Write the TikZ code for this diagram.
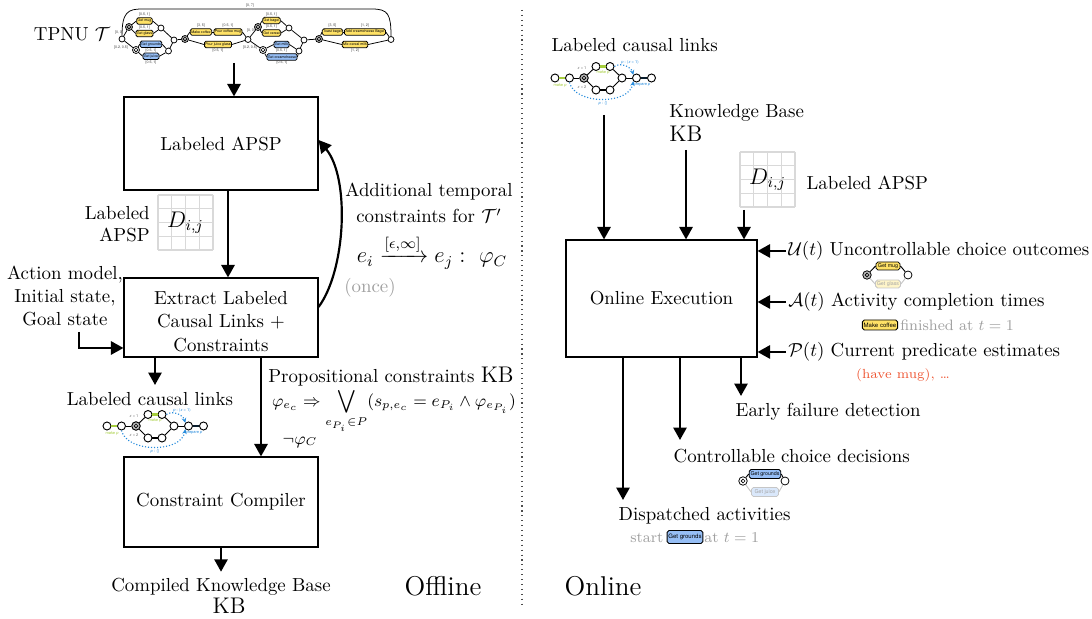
\documentclass[tikz,border=0pt]{standalone}
\usepackage{amsmath,amssymb}
\usepackage{fontspec}
\newfontfamily\boxfont{TeX Gyre Heros}
\usetikzlibrary{arrows.meta}

\definecolor{actY}{RGB}{255,226,102}
\definecolor{actB}{RGB}{150,190,245}
\definecolor{linkG}{RGB}{165,205,60}
\definecolor{linkB}{RGB}{40,140,220}
\definecolor{noteR}{RGB}{238,85,50}
\definecolor{noteG}{RGB}{160,160,160}
\def\pxu{0.53pt}

\tikzset{
  arr/.style={line width=1.15pt, -{Triangle[length=6.6pt,width=7pt]}},
  procbox/.style={draw, line width=0.6pt, align=center, inner sep=2pt},
  ev/.style={circle, draw, fill=white, line width=0.4pt, minimum size=6*\pxu, inner sep=0pt},
  uch/.style={ev, fill=gray!55, minimum size=7*\pxu,
    path picture={\draw[line width=0.3pt] (path picture bounding box.center) circle[radius=1.9*\pxu];}},
  cch/.style={ev, minimum size=7*\pxu,
    path picture={\draw[line width=0.3pt] (path picture bounding box.center) circle[radius=1.9*\pxu];}},
  tact/.style={draw, rounded corners=0.8pt, line width=0.4pt, inner xsep=0.5pt, inner ysep=0pt,
    minimum height=6.5*\pxu, font=\boxfont\fontsize{1.9}{2.2}\selectfont},
  yact/.style={tact, fill=actY},
  bact/.style={tact, fill=actB},
  tlab/.style={font=\boxfont\fontsize{1.9}{2.2}\selectfont, inner sep=0pt, text=black!75},
  tedge/.style={line width=0.4pt},
  cev/.style={ev, minimum size=8*\pxu, line width=0.5pt},
  cuch/.style={uch, minimum size=8.5*\pxu, line width=0.5pt},
  clab/.style={font=\boxfont\fontsize{2.1}{2.4}\selectfont, inner sep=0pt},
  iact/.style={draw, rounded corners=1pt, line width=0.45pt, inner xsep=0.7pt, inner ysep=0pt,
    font=\boxfont\fontsize{2.8}{3.2}\selectfont},
  gridline/.style={gray!30, line width=0.6pt},
  pics/clinks/.style={code={
    \node[cev] (-a) at (0,0) {};
    \node[cev] (-b) at (14.5,0) {};
    \node[cuch] (-c) at (29,0) {};
    \node[cev] (-u1) at (41,-11.5) {};
    \node[cev] (-u2) at (55,-11.5) {};
    \node[cev] (-l1) at (41,12) {};
    \node[cev] (-l2) at (55,12) {};
    \node[cev] (-d) at (67,0) {};
    \node[cev] (-e) at (81.5,0) {};
    \node[cev] (-f) at (96.5,0) {};
    \draw[line width=1.2pt, linkG] (-a) -- (-b);
    \draw[line width=0.5pt] (-b) -- (-c);
    \draw[line width=0.5pt] (-c) -- (-u1);
    \draw[line width=0.5pt] (-c) -- (-l1);
    \draw[line width=1.2pt, linkG] (-u1) -- (-u2);
    \draw[line width=1pt] (-l1) -- (-l2);
    \draw[line width=0.5pt] (-u2) -- (-d);
    \draw[line width=0.5pt] (-l2) -- (-d);
    \draw[line width=0.5pt] (-d) -- (-e);
    \draw[line width=1.1pt, black!80!linkB] (-e) -- (-f);
    \draw[linkB, densely dotted, line width=0.6pt, -{Stealth[length=2.6pt,width=2.4pt]}]
      (-u2.east) .. controls (66,-16) and (76,-11) .. (-e.north west);
    \draw[linkB, densely dotted, line width=0.6pt, -{Stealth[length=2.6pt,width=2.4pt]}]
      (-b.south) .. controls (20,27) and (74,27) .. (-e.south west);
    \node[clab, text=linkG] at (5,7) {make \textit{p}};
    \node[clab, text=linkG] at (48,-5.5) {make \textit{p}};
    \node[clab, text=black!55] at (27,-9.5) {\textit{x} = 1};
    \node[clab, text=black!55] at (27,9.5) {\textit{x} = 2};
    \node[clab, text=linkB] at (75,-16) {\textit{p} : (\textit{x} = 1)};
    \node[clab, text=linkB] at (87,7) {prepare \textit{p}};
    \node[clab, text=linkB] at (48,25) {\textit{p} : \{\}};
  }}
}

\begin{document}
\begin{tikzpicture}[x=0.53pt, y=-0.53pt]
\useasboundingbox (0,0) rectangle (1092,619);

% ---------------- Offline part ----------------
\node (tpnulbl) at (72,34) {TPNU $\mathcal{T}$};

% temporal plan network with uncertainty
\node[ev] (t0) at (122,39) {};
\node[uch] (tc1) at (129,27) {};
\node[yact] (tmug) at (144.5,21) {Get mug};
\node[yact] (tglass) at (144.5,33.5) {Get glass};
\node[ev] (tm1) at (161,28) {};
\node[cch] (tc2) at (136,50) {};
\node[bact] (tgrounds) at (151,44.3) {Get grounds};
\node[bact] (tjuice) at (151,56.3) {Get juice};
\node[ev] (tm2) at (168.5,51) {};
\node[ev] (tj1) at (174,40) {};
\node[uch] (tc3) at (185,39) {};
\node[yact] (tmake) at (201,32) {Make coffee};
\node[yact] (tpourm) at (228,32) {Pour coffee mug};
\node[yact] (tpourj) at (218,44.5) {Pour juice glass};
\node[ev] (tj2) at (248,39.5) {};
\node[uch] (tc4) at (258,27) {};
\node[yact] (tbagel) at (271.5,20.5) {Get bagel};
\node[yact] (tcereal) at (271.5,33) {Get cereal};
\node[ev] (tm3) at (289,28) {};
\node[cch] (tc5) at (263,50) {};
\node[bact] (tmilk) at (281.5,44.5) {Get milk};
\node[bact] (tcream) at (282,57) {Get creamcheese};
\node[ev] (tm4) at (299,51) {};
\node[ev] (tj3) at (304,40) {};
\node[uch] (tc6) at (319,39) {};
\node[yact] (ttoast) at (332.5,32) {Toast bagel};
\node[yact] (tadd) at (365,32) {Add creamcheese Bagel};
\node[yact] (tmix) at (355,44.5) {Mix cereal milk};
\node[ev] (tend) at (391,39.5) {};

\draw[tedge] (t0) -- (tc1);
\draw[tedge] (t0) -- (tc2);
\draw[tedge] (tc1) -- (tmug.west);
\draw[tedge] (tc1) -- (tglass.west);
\draw[tedge] (tmug.east) -- (tm1);
\draw[tedge] (tglass.east) -- (tm1);
\draw[tedge] (tc2) -- (tgrounds.west);
\draw[tedge] (tc2) -- (tjuice.west);
\draw[tedge] (tgrounds.east) -- (tm2);
\draw[tedge] (tjuice.east) -- (tm2);
\draw[tedge] (tm1) -- (tj1);
\draw[tedge] (tm2) -- (tj1);
\draw[tedge] (tj1) -- (tc3);
\draw[tedge] (tc3) -- (tmake.west);
\draw[tedge] (tmake) -- (tpourm);
\draw[tedge] (tpourm.east) -- (tj2);
\draw[tedge] (tc3) -- (tpourj.west);
\draw[tedge] (tpourj.east) -- (tj2);
\draw[tedge] (tj2) -- (tc4);
\draw[tedge] (tj2) -- (tc5);
\draw[tedge] (tc4) -- (tbagel.west);
\draw[tedge] (tc4) -- (tcereal.west);
\draw[tedge] (tbagel.east) -- (tm3);
\draw[tedge] (tcereal.east) -- (tm3);
\draw[tedge] (tc5) -- (tmilk.west);
\draw[tedge] (tc5) -- (tcream.west);
\draw[tedge] (tmilk.east) -- (tm4);
\draw[tedge] (tcream.east) -- (tm4);
\draw[tedge] (tm3) -- (tj3);
\draw[tedge] (tm4) -- (tj3);
\draw[tedge] (tj3) -- (tc6);
\draw[tedge] (tc6) -- (ttoast.west);
\draw[tedge] (ttoast) -- (tadd);
\draw[tedge] (tadd.east) -- (tend);
\draw[tedge] (tc6) -- (tmix.west);
\draw[tedge] (tmix.east) -- (tend);
\draw[tedge] (t0.north) .. controls (122,12) and (128,9) .. (142,9) -- (372,9)
  .. controls (388,9) and (391,14) .. (tend.north);

\node[tlab] at (250,5.5) {[0, 7]};
\node[tlab] at (144.5,15) {[0.5, 1]};
\node[tlab] at (144.5,27.5) {[0.5, 1]};
\node[tlab] at (151,50.5) {[0.5, 1]};
\node[tlab] at (151,62.5) {[0.5, 1]};
\node[tlab] at (119,33) {[0, 0]};
\node[tlab] at (121,47.5) {[0.2, 0.5]};
\node[tlab] at (201,25.5) {[3, 5]};
\node[tlab] at (228,25.5) {[0.5, 1]};
\node[tlab] at (218,51) {[0.5, 1]};
\node[tlab] at (251,31) {[0, 0]};
\node[tlab] at (271.5,14.5) {[0.5, 1]};
\node[tlab] at (271.5,27) {[0.5, 1]};
\node[tlab] at (250,47.5) {[0.2, 0.5]};
\node[tlab] at (281.5,51) {[0.5, 1]};
\node[tlab] at (282,63) {[0.5, 1]};
\node[tlab] at (332.5,25.5) {[3, 5]};
\node[tlab] at (365,25.5) {[1, 2]};
\node[tlab] at (355,51) {[1, 2]};

% processing stages
\node[procbox, minimum width=194*\pxu, minimum height=93*\pxu] (apsp) at (221,143.5) {Labeled APSP};
\node[procbox, minimum width=194*\pxu, minimum height=79*\pxu] (extract) at (221,317.5) {};
\node[align=center] (extracttxt) at (221,321.5) {Extract Labeled\\[0.5pt]Causal Links +\\[0.5pt]Constraints};
\node[procbox, minimum width=194*\pxu, minimum height=90*\pxu] (compiler) at (221,502) {Constraint Compiler};

\coordinate (tpnuout) at (234,63);
\draw[arr] (tpnuout) -- (tpnuout |- apsp.north);
\draw[arr] ([xshift=7*\pxu]apsp.south) -- ([xshift=7*\pxu]extract.north);

% APSP matrix beside the arrow
\node[align=right, anchor=east, inner sep=0pt] (lapsp) at (150,224) {Labeled\\APSP};
\node[minimum size=55*\pxu, inner sep=0pt] (gridL) at (185.5,222.5) {};
\foreach \i in {0,...,4} {
  \draw[gridline] (158+\i*13.75,195) -- (158+\i*13.75,250);
  \draw[gridline] (158,195+\i*13.75) -- (213,195+\i*13.75);
}
\node at (gridL) {\large $D_{i,j}$};

% domain inputs
\node[align=center] (amodel) at (65,296) {Action model,\\Initial state,\\Goal state};
\coordinate (ain) at (79,332);
\draw[arr] (ain) |- ([yshift=-30.5*\pxu]extract.west);

% feedback of additional temporal constraints
\draw[arr] ([yshift=10.5*\pxu]extract.east) .. controls (346,270) and (350,178) .. ([yshift=3.5*\pxu]apsp.east);
\node[align=center, inner sep=1pt] (addc) at (429,203) {Additional temporal\\[2pt]constraints for $\mathcal{T}'$};
\node[inner sep=0pt] (eqc) at (432,252) {\large $e_i \xrightarrow{[\epsilon,\infty]} e_j :\ \varphi_C$};
\node[text=noteG] (once) at (370,288) {(once)};

% outputs of extraction
\coordinate (clin) at (155,385);
\draw[arr] (clin |- extract.south) -- (clin);
\draw[arr] ([xshift=40*\pxu]extract.south) -- ([xshift=40*\pxu]compiler.north);
\node (lcl) at (150,399) {Labeled causal links};
\pic (clL) at (107,426) {clinks};

\node[inner sep=0pt] (propc) at (391,377) {Propositional constraints {\large KB}};
\node[inner sep=0pt] (propf) at (394,411) {\fontsize{8.6}{10}\selectfont $\displaystyle \varphi_{e_c} \Rightarrow \bigvee_{e_{P_i}\in P} (s_{p,e_c} = e_{P_i} \wedge \varphi_{e_{P_i}})$};
\node (negc) at (300,442) {\small $\neg\varphi_C$};

\node (ckb) at (221,587) {Compiled Knowledge Base};
\node (ckbkb) at (229,606) {\large KB};
\draw[arr] (compiler.south) -- (ckb.north);

\node (offl) at (443,586) {\Large Offline};

% separator
\draw[dotted, line width=0.6pt, black!70] (522,10) -- (522,605);

% ---------------- Online part ----------------
\node[anchor=west] (rcl) at (545,45) {Labeled causal links};
\pic (clR) at (555,78) {clinks};

\node[align=left, anchor=north west, inner sep=0pt] (kbR) at (669,104) {Knowledge Base\\[1pt]{\large KB}};

\node[minimum size=55*\pxu, inner sep=0pt] (gridR) at (767.5,179.5) {};
\foreach \i in {0,...,4} {
  \draw[gridline] (740+\i*13.75,152) -- (740+\i*13.75,207);
  \draw[gridline] (740,152+\i*13.75) -- (795,152+\i*13.75);
}
\node at (gridR) {\large $D_{i,j}$};
\node[anchor=west] (rapsp) at (800,183) {Labeled APSP};

\node[procbox, minimum width=191*\pxu, minimum height=117*\pxu] (online) at (661.5,298.5) {Online Execution};

\coordinate (clout) at (604,115);
\draw[arr] (clout) -- (clout |- online.north);
\coordinate (kbout) at (686,150);
\draw[arr] (kbout) -- (kbout |- online.north);
\coordinate (gout) at (744,210);
\draw[arr] (gout) -- (gout |- online.north);

% runtime observations
\node[anchor=west, inner sep=1pt] (uin) at (786,251) {$\mathcal{U}(t)$ Uncontrollable choice outcomes};
\node[anchor=west, inner sep=1pt] (acin) at (786,302) {$\mathcal{A}(t)$ Activity completion times};
\node[anchor=west, inner sep=1pt] (pin) at (786,352) {$\mathcal{P}(t)$ Current predicate estimates};
\draw[arr] (uin.west) -- (uin.west -| online.east);
\draw[arr] (acin.west) -- (acin.west -| online.east);
\draw[arr] (pin.west) -- (pin.west -| online.east);

% observed choice outcome
\node[uch, minimum size=8.5*\pxu] (ouc) at (867,275) {};
\node[iact, fill=actY, minimum width=24*\pxu, minimum height=8*\pxu] (omug) at (888,266) {Get mug};
\node[iact, fill=actY!35, draw=gray!45, text=gray!70, minimum width=24*\pxu, minimum height=8*\pxu] (oglass) at (888,284) {Get glass};
\node[ev, minimum size=8*\pxu] (oend) at (908,275) {};
\draw[line width=0.5pt] (ouc) -- (omug.west);
\draw[line width=0.5pt, gray!45] (ouc) -- (oglass.west);
\draw[line width=0.5pt] (omug.east) -- (oend);
\draw[line width=0.5pt, gray!45] (oglass.east) -- (oend);

% observed completion
\node[iact, fill=actY, minimum height=10*\pxu, font=\boxfont\fontsize{3.2}{3.6}\selectfont] (omake) at (880,325) {Make coffee};
\node[anchor=west, inner sep=1pt, text=noteG] (ofin) at (898,325) {\footnotesize finished at $t = 1$};
\node[text=noteR] (ohave) at (903,375) {\scriptsize (have mug), \dots};

% execution outputs
\coordinate (efin) at (741,396);
\draw[arr] (efin |- online.south) -- (efin);
\coordinate (ccin) at (680,440);
\draw[arr] (ccin |- online.south) -- (ccin);
\coordinate (dain) at (623,500);
\draw[arr] (dain |- online.south) -- (dain);

\node[anchor=west] (efd) at (729,412) {Early failure detection};
\node[anchor=west] (ccd) at (667,456) {Controllable choice decisions};
\node[anchor=west] (dact) at (612,516) {Dispatched activities};

% chosen alternative
\node[cch, minimum size=8.5*\pxu] (dcc) at (743,481) {};
\node[iact, fill=actB, minimum width=27*\pxu, minimum height=9*\pxu] (dgr) at (765,474) {Get grounds};
\node[iact, fill=actB!35, draw=gray!45, text=gray!70, minimum width=27*\pxu, minimum height=9*\pxu] (djc) at (765,492) {Get juice};
\node[ev, minimum size=8*\pxu] (dend) at (785,481) {};
\draw[line width=0.5pt] (dcc) -- (dgr.west);
\draw[line width=0.5pt, gray!45] (dcc) -- (djc.west);
\draw[line width=0.5pt] (dgr.east) -- (dend);
\draw[line width=0.5pt, gray!45] (djc.east) -- (dend);

% dispatched activity
\node[anchor=west, inner sep=1pt, text=noteG] (dstart) at (628,538) {\footnotesize start};
\node[iact, fill=actB, minimum height=13*\pxu, font=\boxfont\fontsize{3.2}{3.6}\selectfont] (dgs) at (685,537) {Get grounds};
\node[anchor=west, inner sep=1pt, text=noteG] (dat) at (702,538) {\footnotesize at $t = 1$};

\node[anchor=west] (onl) at (558,586) {\Large Online};
\end{tikzpicture}
\end{document}
